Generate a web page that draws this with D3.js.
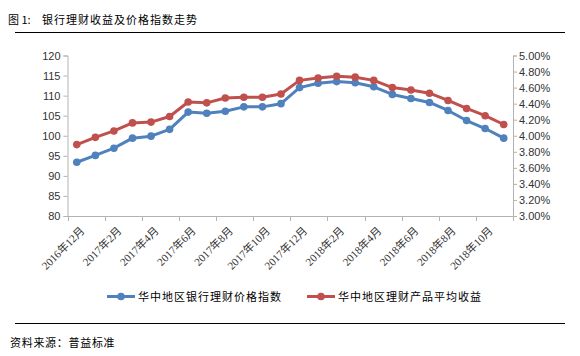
<!DOCTYPE html>
<html><head><meta charset="utf-8">
<script src="https://cdn.jsdelivr.net/npm/d3@7"></script>
<style>body{margin:0;background:#fff}svg{display:block}</style>
</head><body>
<svg id="c" width="580" height="356"></svg>
<script>
const months = ["2016年12月","2017年1月","2017年2月","2017年3月","2017年4月","2017年5月","2017年6月","2017年7月","2017年8月","2017年9月","2017年10月","2017年11月","2017年12月","2018年1月","2018年2月","2018年3月","2018年4月","2018年5月","2018年6月","2018年7月","2018年8月","2018年9月","2018年10月","2018年11月"];
const priceIndex = [93.4,95.1,96.9,99.4,99.9,101.6,105.9,105.6,106.1,107.2,107.2,108.0,112.0,113.1,113.5,113.2,112.2,110.3,109.3,108.3,106.3,103.8,101.8,99.4];
const avgYield = [3.89,3.98,4.06,4.16,4.17,4.24,4.42,4.41,4.47,4.48,4.48,4.52,4.69,4.72,4.74,4.73,4.69,4.60,4.57,4.53,4.44,4.34,4.25,4.14];
const leftTicks = [80,85,90,95,100,105,110,115,120];
const rightTicks = [3.0,3.2,3.4,3.6,3.8,4.0,4.2,4.4,4.6,4.8,5.0];
const seriesNames = ["华中地区银行理财价格指数","华中地区理财产品平均收益"];
const colors = ["#4f81bd","#c0504d"];
const titlePrefix = "图 1:";
const title = "银行理财收益及价格指数走势";
const source = "资料来源：普益标准";

const svg = d3.select("#c");
const L = 67.5, R = 513, T = 55.5, B = 216;
const x = d3.scaleBand().domain(months).range([L, R]);
const yL = d3.scaleLinear().domain([80,120]).range([B, T]);
const yR = d3.scaleLinear().domain([3,5]).range([B, T]);
const cjk = "'Noto Sans CJK SC', sans-serif";
const axisColor = "#b3b3b3";

// title & lines
svg.append("text").attr("x",8).attr("y",24).attr("font-family",cjk).attr("font-size",11).attr("fill","#000").text(titlePrefix);
svg.append("text").attr("x",42).attr("y",24).attr("font-family",cjk).attr("font-size",11).attr("letter-spacing",1).attr("fill","#000").text(title);
svg.append("line").attr("x1",15).attr("x2",565).attr("y1",32.5).attr("y2",32.5).attr("stroke","#000").attr("stroke-width",1);
svg.append("line").attr("x1",15).attr("x2",565).attr("y1",323.5).attr("y2",323.5).attr("stroke","#000").attr("stroke-width",1);
svg.append("text").attr("x",10).attr("y",347).attr("font-family",cjk).attr("font-size",11).attr("letter-spacing",0.7).attr("fill","#000").text(source);

// axes
const gl = svg.append("g").attr("transform",`translate(${L},0)`)
  .call(d3.axisLeft(yL).tickValues(leftTicks).tickSize(4).tickPadding(3).tickFormat(d3.format("d")));
const gr = svg.append("g").attr("transform",`translate(${R},0)`)
  .call(d3.axisRight(yR).tickValues(rightTicks).tickSize(4).tickPadding(2).tickFormat(d=>d.toFixed(2)+"%"));
[gl,gr].forEach(g=>{
  g.selectAll("path,line").attr("stroke",axisColor);
  g.selectAll("text").attr("font-family","'Liberation Sans', Arial, sans-serif").attr("font-size",11).attr("fill","#333");
});
// x axis
const gx = svg.append("g").attr("transform",`translate(0,${B})`);
gx.append("line").attr("x1",L).attr("x2",R).attr("y1",0.5).attr("y2",0.5).attr("stroke",axisColor);
const tickIdx = months.map((m,i)=>i).filter(i=>i%2===0);
gx.selectAll("line.t").data(tickIdx).join("line").attr("class","t")
  .attr("x1",i=>Math.round(x(months[i]))+0.5).attr("x2",i=>Math.round(x(months[i]))+0.5)
  .attr("y1",0).attr("y2",5).attr("stroke",axisColor);
gx.append("line").attr("x1",R+0.5).attr("x2",R+0.5).attr("y1",0).attr("y2",5).attr("stroke",axisColor);
gx.selectAll("text").data(tickIdx).join("text")
  .attr("transform",i=>`translate(${x(months[i])+x.bandwidth()/2+3},10) rotate(-45)`)
  .attr("text-anchor","end").attr("dy","0.7em")
  .attr("font-family","'Liberation Serif', 'Noto Sans CJK SC', serif").attr("font-size",11).attr("fill","#333")
  .text(i=>months[i]);

// series
const cx = m => x(m)+x.bandwidth()/2;
const series = [
  {vals:priceIndex, y:yL, c:colors[0]},
  {vals:avgYield, y:yR, c:colors[1]}
];
series.forEach(s=>{
  const line = d3.line().x((d,i)=>cx(months[i])).y(d=>s.y(d));
  svg.append("path").datum(s.vals).attr("d",line).attr("fill","none").attr("stroke",s.c).attr("stroke-width",3).attr("stroke-linejoin","round");
  svg.append("g").selectAll("circle").data(s.vals).join("circle")
    .attr("cx",(d,i)=>cx(months[i])).attr("cy",d=>s.y(d)).attr("r",3.8).attr("fill",s.c);
});

// legend
const lg = [{x:107,tx:138},{x:307,tx:338}];
seriesNames.forEach((n,i)=>{
  const g = svg.append("g");
  g.append("line").attr("x1",lg[i].x).attr("x2",lg[i].x+28).attr("y1",296.5).attr("y2",296.5).attr("stroke",colors[i]).attr("stroke-width",3);
  g.append("circle").attr("cx",lg[i].x+14).attr("cy",296.5).attr("r",3.8).attr("fill",colors[i]);
  g.append("text").attr("x",lg[i].tx).attr("y",300.5).attr("font-family",cjk).attr("font-size",11).attr("letter-spacing",1).attr("fill","#000").text(n);
});
</script>
</body></html>
